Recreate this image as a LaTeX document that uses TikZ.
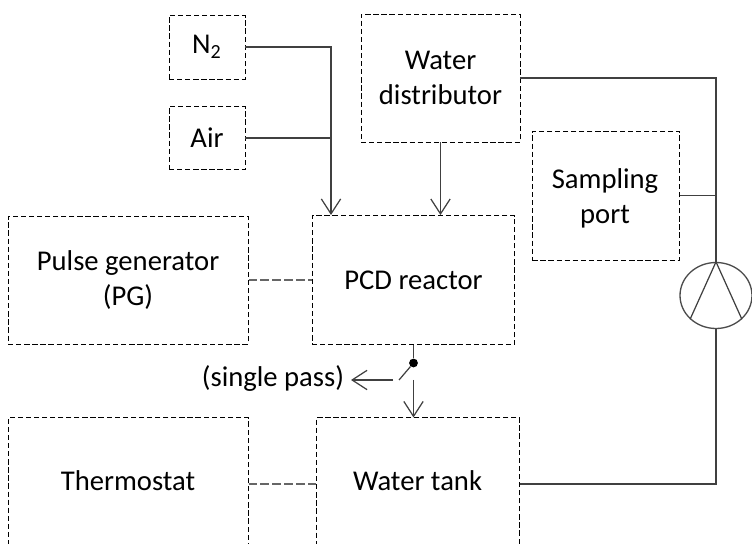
\documentclass[tikz,border=0pt]{standalone}
\usepackage{fontspec}
\setmainfont{Carlito}
\usetikzlibrary{arrows.meta,shapes.geometric}

\begin{document}
\begin{tikzpicture}[x=0.02cm,y=-0.02cm,>={Straight Barb[length=8.5pt,width=11pt]},
    box text/.style={font=\fontsize{16.3}{19.6}\selectfont,align=center,inner sep=0pt},
    main box/.style={box text,draw=black,line width=0.55pt,dash pattern=on 3pt off 1.6pt},
    pipe/.style={draw=black!75,line width=0.7pt},
    link/.style={draw=black!60,line width=1pt,dash pattern=on 4.8pt off 2pt}]

            \useasboundingbox (0,0) rectangle (752,544);

            \node[main box, minimum width=1.52cm, minimum height=1.28cm] (n2) at (207,47){N\textsubscript{2}};
            \node[main box, minimum width=1.52cm, minimum height=1.28cm, node distance=1.82cm] (air) [below of = n2]{Air};
            \node[main box, minimum width=3.18cm, minimum height=2.56cm] (distributor) at (440.5,78){Water\\distributor};
            \node[main box, minimum width=2.95cm, minimum height=2.58cm] (sampling) at (606,195.5){};
            \node[main box, minimum width=4.06cm, minimum height=2.58cm] (reactor) at (413.5,280){PCD reactor};
            \node[main box, minimum width=4.8cm, minimum height=2.56cm, node distance=5.71cm] (generator) [left of = reactor]{Pulse generator\\(PG)};
            \node[main box, minimum width=4.8cm, minimum height=2.66cm, node distance=4.08cm] (thermostat) [below of = generator]{};
            \node[main box, minimum width=4.08cm, minimum height=2.64cm, node distance=5.8cm] (tank) [right of = thermostat]{};
            \node[box text] (samplinglabel) at (605,198.5){Sampling\\port};
            \node[box text] (thermostatlabel) at (128,480.5){Thermostat};
            \node[box text] (tanklabel) at (417.5,480.5){Water tank};
            \node[draw=black!70, line width=0.75pt, ellipse, inner sep=0pt, minimum width=1.44cm, minimum height=1.32cm] (pump) at (716,295.5){};
            \node[circle, fill=black, inner sep=0pt, minimum size=5pt] (valve) at (413.5,363){};
            \node[box text] (single) at (273,378){(single pass)};

            \coordinate (trunk) at (331,215);
            \coordinate (switch) at (399,380);
            \coordinate (branch) at (393,380);
            \coordinate (outlet) at (351,380);
            \coordinate (drop) at (413.5,380);

            \draw[pipe,->] (n2.east) -| (trunk);
            \draw[pipe] (air.east) -- (air.east -| trunk);
            \draw[pipe,->] (distributor.south) -- (distributor.south |- reactor.north);
            \draw[pipe] (reactor.south) -- (valve);
            \draw[pipe] (valve) -- (switch);
            \draw[pipe,->] (branch) -- (outlet);
            \draw[pipe,->] (drop) -- (drop |- tank.north);

            \draw[link] (generator.east) -- (reactor.west);
            \draw[link] (thermostat.east) -- (tank.west);

            \draw[pipe] (distributor.east) -| (pump.north);
            \draw[pipe] (sampling.east) -- (sampling.east -| pump.north);
            \draw[pipe] (pump.south) |- (tank.east);
            \draw[pipe] (pump.south west) -- (pump.north);
            \draw[pipe] (pump.north) -- (pump.south east);

        \end{tikzpicture}
\end{document}
